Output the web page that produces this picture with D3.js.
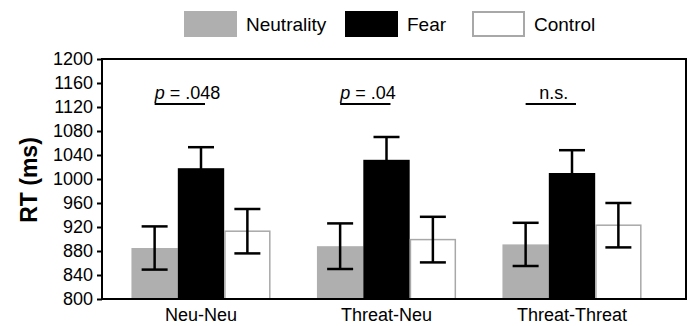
<!DOCTYPE html>
<html>
<head>
<meta charset="utf-8">
<script src="https://cdn.jsdelivr.net/npm/d3@7"></script>
<style>
  body { margin: 0; background: #fff; }
  svg { display: block; font-family: "Liberation Sans", Arial, Helvetica, sans-serif; }
</style>
</head>
<body>
<svg id="chart" width="693" height="326"></svg>
<script>
// data
const conditions = ['Neu-Neu', 'Threat-Neu', 'Threat-Threat'];
const seriesNames = ['Neutrality', 'Fear', 'Control'];
const neutrality = [885, 888, 891];
const fear = [1018, 1032, 1010];
const control = [913, 899, 923];
const neutralityErr = [36, 38, 36];
const fearErr = [35, 38, 38];
const controlErr = [37, 38, 37];
const sigLabels = ['p = .048', 'p = .04', 'n.s.'];
const sigLevel = 1125;
const yTicks = [800, 840, 880, 920, 960, 1000, 1040, 1080, 1120, 1160, 1200];

const means = [neutrality, fear, control];
const errs = [neutralityErr, fearErr, controlErr];
const fills = ['#afafaf', '#000000', '#ffffff'];

const svg = d3.select('#chart');
const plotL = 102, plotR = 686, plotT = 59, plotB = 299;

const x = d3.scaleBand()
  .domain(conditions)
  .range([108.25, 664.75])
  .paddingInner(0.25)
  .paddingOuter(0.125);

const xs = d3.scaleBand()
  .domain(seriesNames)
  .range([0, x.bandwidth()]);

const y = d3.scaleLinear().domain([800, 1200]).range([plotB, plotT]);

// bars
const rows = [];
conditions.forEach((c, i) => {
  seriesNames.forEach((s, j) => {
    rows.push({ c, s, j, v: means[j][i], e: errs[j][i] });
  });
});

const bars = svg.append('g');
bars.selectAll('rect')
  .data(rows)
  .enter().append('rect')
  .attr('x', d => x(d.c) + xs(d.s) + (d.j == 2 ? 0.75 : 0))
  .attr('y', d => y(d.v))
  .attr('width', d => xs.bandwidth() - (d.j == 2 ? 1.5 : 0))
  .attr('height', d => y(800) - y(d.v))
  .attr('fill', d => fills[d.j])
  .attr('stroke', d => d.j == 2 ? '#a8a8a8' : 'none')
  .attr('stroke-width', 1.5);

// error bars
const cap = 13;
const eb = svg.append('g').attr('stroke', '#000').attr('stroke-width', 2.5);
rows.forEach(d => {
  const cx = x(d.c) + xs(d.s) + xs.bandwidth() / 2;
  eb.append('line').attr('x1', cx).attr('x2', cx).attr('y1', y(d.v + d.e)).attr('y2', y(d.v - d.e));
  eb.append('line').attr('x1', cx - cap).attr('x2', cx + cap).attr('y1', y(d.v + d.e)).attr('y2', y(d.v + d.e));
  eb.append('line').attr('x1', cx - cap).attr('x2', cx + cap).attr('y1', y(d.v - d.e)).attr('y2', y(d.v - d.e));
});

// frame
svg.append('rect')
  .attr('x', plotL).attr('y', plotT)
  .attr('width', plotR - plotL).attr('height', plotB - plotT)
  .attr('fill', 'none').attr('stroke', '#000').attr('stroke-width', 2);

// y axis
const yAxis = svg.append('g')
  .attr('transform', `translate(${plotL},0)`)
  .call(d3.axisLeft(y).tickValues(yTicks).tickSize(5).tickPadding(4).tickFormat(d3.format('d')));
yAxis.select('.domain').remove();
yAxis.selectAll('line').attr('stroke-width', 2);
yAxis.selectAll('text').attr('font-size', 18).attr('fill', '#000')
  .attr('font-family', '"Liberation Sans", Arial, sans-serif');

// x axis labels
const xAxis = svg.append('g')
  .attr('transform', `translate(0,${plotB})`)
  .call(d3.axisBottom(x).tickSize(0).tickPadding(9));
xAxis.select('.domain').remove();
xAxis.selectAll('text').attr('font-size', 18).attr('fill', '#000')
  .attr('font-family', '"Liberation Sans", Arial, sans-serif');

// y title
svg.append('text')
  .attr('transform', `translate(37,180) rotate(-90)`)
  .attr('text-anchor', 'middle')
  .attr('font-size', 23)
  .attr('font-weight', 'bold')
  .text('RT (ms)');

// significance lines
const sig = svg.append('g');
conditions.forEach((c, i) => {
  const x1 = x(c) + xs(seriesNames[0]) + xs.bandwidth() / 2;
  const x2 = x(c) + xs(seriesNames[1]) + xs.bandwidth() / 2 + 4;
  const ly = y(sigLevel);
  sig.append('line').attr('x1', x1).attr('x2', x2).attr('y1', ly).attr('y2', ly)
    .attr('stroke', '#000').attr('stroke-width', 2);
  const lab = sigLabels[i];
  const t = sig.append('text').attr('y', ly - 5).attr('font-size', 18);
  if (lab.startsWith('p')) {
    t.attr('x', x1).attr('text-anchor', 'start');
    t.append('tspan').attr('font-style', 'italic').text('p');
    t.append('tspan').text(lab.slice(1));
  } else {
    t.attr('x', (x1 + x2) / 2 + 3).attr('text-anchor', 'middle').text(lab);
  }
});

// legend
const legX = [184, 345, 472];
const leg = svg.append('g');
seriesNames.forEach((s, j) => {
  leg.append('rect')
    .attr('x', legX[j] + (j == 2 ? 1 : 0)).attr('y', 11 + (j == 2 ? 1 : 0))
    .attr('width', 53 - (j == 2 ? 2 : 0)).attr('height', 26 - (j == 2 ? 2 : 0))
    .attr('fill', fills[j])
    .attr('stroke', j == 2 ? '#a8a8a8' : 'none')
    .attr('stroke-width', 2);
  leg.append('text')
    .attr('x', legX[j] + 62).attr('y', 31)
    .attr('font-size', 19)
    .text(s);
});
</script>
</body>
</html>
